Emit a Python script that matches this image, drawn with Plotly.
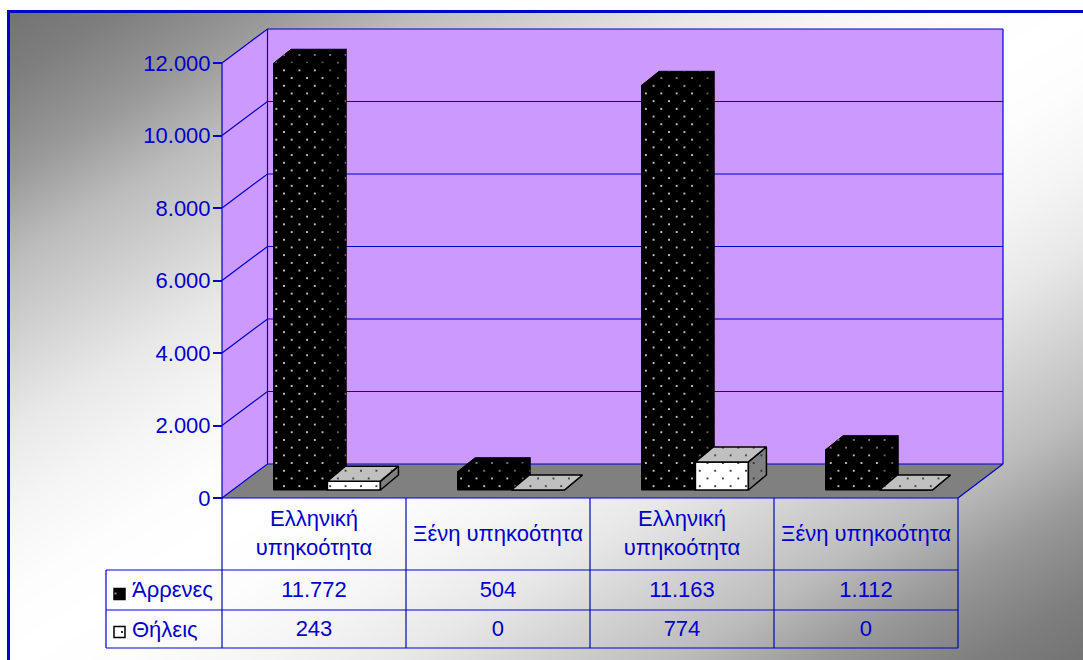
import plotly.graph_objects as go

W, H = 1083, 660
categories = ["Ελληνική<br>υπηκοότητα", "Ξένη υπηκοότητα", "Ελληνική<br>υπηκοότητα", "Ξένη υπηκοότητα"]
male = [11772, 504, 11163, 1112]
female = [243, 0, 774, 0]
series_names = ["Άρρενες", "Θήλεις"]
tick_vals = [0, 2000, 4000, 6000, 8000, 10000, 12000]
tick_text = ["0", "2.000", "4.000", "6.000", "8.000", "10.000", "12.000"]

BLUE = "#0000CC"
FONT = "Liberation Sans"
FS = 22
X0, Y0, PXX, PXY = 222, 498, 184, 0.03625


def X(px):
    return (px - X0) / PXX


def Y(py):
    return (Y0 - py) / PXY


DX, DY = 45.5 / PXX, 34 / PXY
fig = go.Figure()

grad_half = [(0, 0x73), (0.05, 0x7E), (0.1, 0x90), (0.125, 0x9A), (0.19, 0xBC), (0.255, 0xD2), (0.32, 0xE8),
             (0.385, 0xF5), (0.45, 0xFD), (0.5, 0xFF)]
grad_scale = [[t, f"rgb({v},{v},{v})"] for t, v in grad_half] + \
             [[1 - t, f"rgb({v},{v},{v})"] for t, v in reversed(grad_half[:-1])]

# background gradient layer
fig.add_trace(go.Heatmap(x=[0, 1], y=[1, 0], z=[[0, 0.5], [0.5, 1]], zmin=0, zmax=1, zsmooth="best",
                         showscale=False, hoverinfo="skip", xaxis="x", yaxis="y", colorscale=grad_scale))


def layer_axes(n, ox, oy):
    sx = "" if n == 1 else str(n)
    xa = dict(domain=[ox / W, 1], range=[X(ox), X(W)], visible=False, fixedrange=True, anchor="y" + sx)
    ya = dict(domain=[0, 1 - oy / H], range=[Y(H), Y(oy)], visible=False, fixedrange=True, anchor="x" + sx)
    return sx, xa, ya


layout_axes = {}
layout_axes["xaxis"] = dict(domain=[9.5 / W, 1], range=[0, 1], fixedrange=True, showgrid=False, zeroline=False,
                            showticklabels=False, ticks="", showline=True, linecolor=BLUE, linewidth=3,
                            side="top", anchor="y")
layout_axes["yaxis"] = dict(domain=[0, 1 - 12.5 / H], range=[0, 1], fixedrange=True, showgrid=False, zeroline=False,
                            showticklabels=False, ticks="", showline=True, linecolor=BLUE, linewidth=3, anchor="x")

AX, AY = 6.8, 8.75
BX, BY = 14.5, 1.05
for n, (ox, oy) in {2: (AX, AY), 3: (AX, AY), 4: (BX, BY), 5: (AX, AY), 6: (BX, BY)}.items():
    sx, xa, ya = layer_axes(n, ox, oy)
    layout_axes["xaxis" + sx] = xa
    layout_axes["yaxis" + sx] = ya

# y axis ticks and labels on the wall layer
layout_axes["yaxis2"].update(visible=True, showgrid=False, zeroline=False, showline=False, anchor="free",
                             position=X0 / W, tickmode="array", tickvals=tick_vals, ticktext=tick_text,
                             ticks="outside", ticklen=9, tickcolor=BLUE, tickwidth=1.5, ticklabelstandoff=-2,
                             tickfont=dict(family=FONT, size=FS, color=BLUE))


def poly(px_pts):
    return [X(p[0]) for p in px_pts], [Y(p[1]) for p in px_pts]


def filled(pts, color, layer="2"):
    xs, ys = poly(pts)
    fig.add_trace(go.Scatter(x=xs, y=ys, mode="lines", fill="toself", fillcolor=color, line=dict(width=0),
                             hoverinfo="skip", xaxis="x" + layer, yaxis="y" + layer))


filled([(268, 29), (1003, 29), (1003, 464), (268, 464)], "#CC99FF")
filled([(222, 63), (268, 29), (268, 464), (222, 498)], "#CC99FF")
filled([(222, 498), (958, 498), (1003, 464), (268, 464)], "#808080")

# gridlines: left wall and back wall
gx, gy = [], []
for v in tick_vals:
    gx += [0, DX, X(1003), None]
    gy += [v, v + DY, v + DY, None]
gx += [0, 0, None, DX, DX, None, X(1003), X(1003), None, 4, X(1003)]
gy += [0, 12000, None, DY, 12000 + DY, None, DY, 12000 + DY, None, 0, DY]
fig.add_trace(go.Scatter(x=gx, y=gy, mode="lines", line=dict(color=BLUE, width=1.2), hoverinfo="skip",
                         xaxis="x2", yaxis="y2"))

# data table
tx, ty = [], []
for i in range(5):
    tx += [i, i, None]
    ty += [0, Y(648), None]
tx += [X(106), X(106), None]
ty += [Y(570), Y(648), None]
tx += [0, 4, None]
ty += [0, 0, None]
for py in (570, 610, 648):
    tx += [X(106), 4, None]
    ty += [Y(py), Y(py), None]
fig.add_trace(go.Scatter(x=tx, y=ty, mode="lines", line=dict(color=BLUE, width=1.2), hoverinfo="skip",
                         xaxis="x2", yaxis="y2"))


def fmt(v):
    return f"{v:,}".replace(",", ".")


cx = [i + 0.5 for i in range(4)]
fig.add_trace(go.Scatter(x=cx, y=[Y(535)] * 4, mode="text", text=categories, textposition="middle center",
                         textfont=dict(family=FONT, size=FS, color=BLUE), hoverinfo="skip", xaxis="x2", yaxis="y2"))
for vals, py in ((male, 591), (female, 630)):
    fig.add_trace(go.Scatter(x=cx, y=[Y(py)] * 4, mode="text", text=[fmt(v) for v in vals],
                             textposition="middle center", textfont=dict(family=FONT, size=FS, color=BLUE),
                             hoverinfo="skip", xaxis="x2", yaxis="y2"))
fig.add_trace(go.Scatter(x=[X(132)] * 2, y=[Y(591), Y(631)], mode="text", text=series_names,
                         textposition="middle right", textfont=dict(family=FONT, size=FS, color=BLUE),
                         hoverinfo="skip", xaxis="x2", yaxis="y2"))
fig.add_trace(go.Scatter(x=[X(119.5)] * 2, y=[Y(594), Y(632)], mode="markers",
                         marker=dict(symbol="square", size=11, color=["#000000", "#FFFFFF"],
                                     line=dict(color="#000000", width=1.5)),
                         hoverinfo="skip", xaxis="x2", yaxis="y2"))
fig.add_trace(go.Scatter(x=[X(115.5), X(122)], y=[Y(593.5), Y(632)], mode="markers",
                         marker=dict(symbol="square", size=2, color=["#909090", "#303030"], line=dict(width=0)),
                         hoverinfo="skip", xaxis="x2", yaxis="y2"))

FLOOR = 8 / PXY


def draw_series(values, start, width, ddx, ddy, front_bg, top_bg, side_bg, front_fg, top_fg, side_fg,
                line_w, layer, dots_only):
    dxu, dyu = ddx / PXX, ddy / PXY
    CLEAR = "rgba(0,0,0,0)"
    centers = [i + start + width / 2 for i in range(len(values))]
    bg = CLEAR if dots_only else front_bg
    fig.add_trace(go.Bar(x=centers, y=values, base=[FLOOR] * len(values), width=width, hoverinfo="skip",
                         xaxis="x" + layer, yaxis="y" + layer,
                         marker=dict(color=bg, line=dict(color="#000000", width=0 if dots_only else line_w),
                                     pattern=dict(shape=".", size=15.4, solidity=0.012, fgcolor=front_fg,
                                                  bgcolor=bg, fgopacity=1))))
    for kind, color, fg in (("side", side_bg, side_fg), ("top", top_bg, top_fg)):
        xs, ys = [], []
        for i, v in enumerate(values):
            x1, x2 = i + start, i + start + width
            t = v + FLOOR
            if kind == "top":
                xs += [x1, x2, x2 + dxu, x1 + dxu, x1, None]
                ys += [t, t, t + dyu, t + dyu, t, None]
            else:
                xs += [x2, x2 + dxu, x2 + dxu, x2, x2, None]
                ys += [FLOOR, FLOOR + dyu, t + dyu, t, FLOOR, None]
        fill = CLEAR if dots_only else color
        fig.add_trace(go.Scatter(x=xs, y=ys, mode="lines", fill="toself", fillcolor=fill,
                                 line=dict(color="#000000", width=0 if dots_only else line_w), hoverinfo="skip",
                                 xaxis="x" + layer, yaxis="y" + layer,
                                 fillpattern=dict(shape=".", size=15.4, solidity=0.012, fgcolor=fg, bgcolor=fill,
                                                  fgopacity=1)))


for layer, only in (("3", False), ("4", True)):
    draw_series(male, 0.28, 0.30, 17.5, 14, "#000000", "#000000", "#000000", "#FFFFFF", "#A0A0A0", "#808080",
                1, layer, only)
for layer, only in (("5", False), ("6", True)):
    draw_series(female, 0.573, 0.288, 18, 15, "#FFFFFF", "#C0C0C0", "#808080", "#000000", "#202020", "#202020",
                1.5, layer, only)

fig.update_layout(width=W, height=H, margin=dict(l=0, r=0, t=0, b=0), showlegend=False,
                  paper_bgcolor="#FFFFFF", plot_bgcolor="rgba(0,0,0,0)", barmode="overlay", **layout_axes)
fig.write_html("out.html", config=dict(displayModeBar=False), post_script="document.body.style.margin='0';")
